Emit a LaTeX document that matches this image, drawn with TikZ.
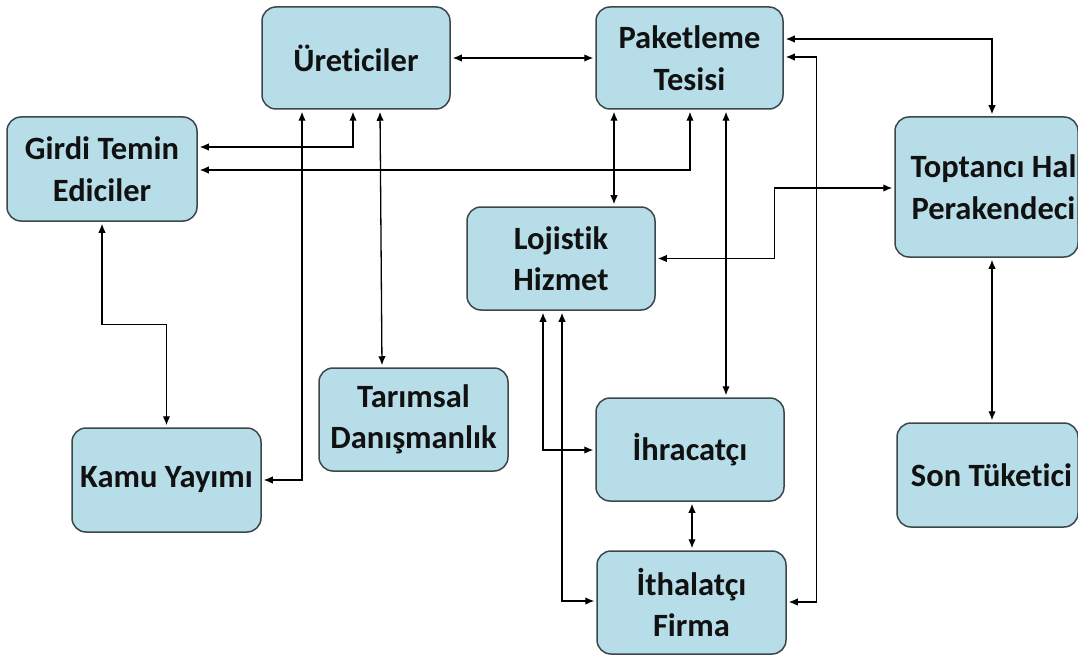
\documentclass[tikz,border=0pt]{standalone}
\usepackage{fontspec}
\setmainfont{Carlito}[Ligatures=CommonOff]
\usetikzlibrary{arrows.meta,calc}
\definecolor{boxfill}{HTML}{B7DDE8}
\definecolor{boxline}{HTML}{3C474B}
\definecolor{ink}{HTML}{111111}
\begin{document}
\begin{tikzpicture}[x=1pt,y=-1pt,
  boxtext/.style={text=ink, align=center,
    font=\bfseries\fontsize{32.5}{41.5}\selectfont},
  box/.style={boxtext, draw=boxline, line width=1.5pt, fill=boxfill,
    rounded corners=14pt, inner sep=0pt},
  lbl/.style={boxtext, inner sep=0pt},
  link/.style={draw=black, line width=1.3pt,
    {Latex[length=9pt,width=7.5pt]}-{Latex[length=9pt,width=7.5pt]},
    shorten <=2pt, shorten >=2pt}]
\useasboundingbox (0,0) rectangle (1078,655);
\fill[white] (0,0) rectangle (1078,655);

% actors
\node[box, minimum width=188pt, minimum height=102pt] (ure) at (356,58) {Üreticiler};
\node[box, minimum width=187pt, minimum height=102pt] (pak) at (689.5,58) {Paketleme\\Tesisi};
\node[box, minimum width=190pt, minimum height=104pt] (gir) at (102,169) {Girdi Temin\\Ediciler};
\node[box, minimum width=183pt, minimum height=140pt,
  label={[lbl, xshift=7pt]center:{Toptancı Hal\\Perakendeci}}] (toptan) at (986.5,187) {};
\node[box, minimum width=188pt, minimum height=103pt] (loj) at (561,258.5) {Lojistik\\Hizmet};
\node[box, minimum width=189pt, minimum height=103pt] (tar) at (413.5,419.5) {Tarımsal\\Danışmanlık};
\node[box, minimum width=189pt, minimum height=104pt] (kam) at (166.5,480) {Kamu Yayımı};
\node[box, minimum width=188pt, minimum height=103pt] (ihr) at (690,449.5) {İhracatçı};
\node[box, minimum width=189pt, minimum height=103pt] (ith) at (691.5,602.5) {İthalatçı\\Firma};
\node[box, minimum width=181pt, minimum height=104pt,
  label={[lbl, xshift=4pt]center:{Son Tüketici}}] (son) at (987.5,475) {};

% two-way links
\draw[link] (ure.east) -- (pak.west);
\draw[link] ([xshift=-3pt]ure.south) |- ([yshift=22pt]gir.east);
\draw[link] ([xshift=0.5pt]pak.south) |- ([yshift=-1pt]gir.east);
\draw[link] ([xshift=24pt]ure.south) -- ([xshift=-31.5pt]tar.north);
\draw[link] ([xshift=-54pt]ure.south) |- (kam.east);
\draw[link] (gir.south) |- ($(gir.south)!.5!(kam.north)$) -| (kam.north);
\draw[link] ([xshift=-75.5pt]pak.south) -- ([xshift=-75.5pt]pak.south |- loj.north);
\draw[link] ([xshift=36.5pt]pak.south) -- ([xshift=36.5pt]pak.south |- ihr.north);
\draw[link] ([yshift=19pt]pak.east) -| ([xshift=5.5pt]toptan.north);
\draw[link] ([yshift=1pt]pak.east) -- ++(33,0) |- ([yshift=0.5pt]ith.east);
\draw[link] ([yshift=-1pt]toptan.west) -- ++(-120,0) |- (loj.east);
\draw[link] ([xshift=5.5pt]toptan.south) -- ([xshift=5.5pt]toptan.south |- son.north);
\draw[link] ([xshift=-18pt]loj.south) |- ([yshift=-0.5pt]ihr.west);
\draw[link] ([xshift=1pt]loj.south) |- ([yshift=1.5pt]ith.west);
\draw[link] ([xshift=2pt]ihr.south) -- ([xshift=2pt]ihr.south |- ith.north);
\end{tikzpicture}
\end{document}
